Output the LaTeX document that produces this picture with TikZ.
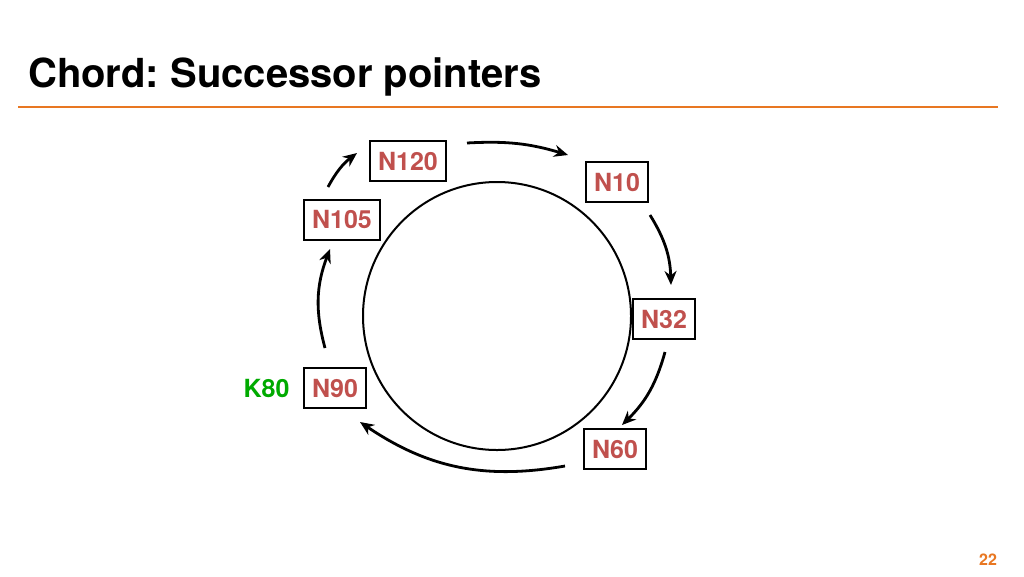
\documentclass[tikz,border=0pt]{standalone}
\usepackage{fontspec}
\setmainfont{TeX Gyre Heros}
\usepackage{tikz}
\usetikzlibrary{arrows.meta,positioning}
\definecolor{slideorange}{HTML}{E87722}
\definecolor{nodered}{HTML}{C0504D}
\definecolor{keygreen}{HTML}{00AA00}
\frenchspacing

\begin{document}
\begin{tikzpicture}[x=1pt,y=-1pt,font=\fontsize{25}{29}\selectfont\bfseries,peer/.style={draw,line width=2pt,text=nodered,minimum height=40pt,inner xsep=8pt},succ/.style={-{Stealth[length=14pt,width=12pt]},line width=2.8pt}]
\useasboundingbox (0,0) rectangle (1024,576);
\node[anchor=base west,inner sep=0pt,font=\fontsize{40}{46}\selectfont\bfseries] (title) at (28,87) {Chord: Successor pointers};
\draw[slideorange,line width=2pt] (18,107) -- (998,107);
\node[draw,circle,line width=2pt,minimum size=268pt,inner sep=0pt] (ring) at (497,316) {};
\node[peer] (n120) at (408,161) {N120};
\node[peer] (n10) at (617,182) {N10};
\node[peer] (n32) at (664,319) {N32};
\node[peer] (n60) at (615,449) {N60};
\node[peer] (n90) at (335,388) {N90};
\node[peer] (n105) at (342,219.5) {N105};
\node[text=keygreen,left=10pt of n90] (k80) {K80};
\node[text=slideorange,font=\fontsize{16}{18}\selectfont\bfseries] (page) at (988,560) {22};
% successor arcs
\coordinate (a1) at (328,187); \coordinate (b1) at (357,153);
\coordinate (a2) at (467,143); \coordinate (b2) at (568,155);
\coordinate (a3) at (650,215); \coordinate (b3) at (671,285);
\coordinate (a4) at (665,352); \coordinate (b4) at (622,425);
\coordinate (a5) at (565,466); \coordinate (b5) at (360,422);
\coordinate (a6) at (325,348); \coordinate (b6) at (330,249);
\draw[succ] (a1) to[bend left=12] (b1);\draw[succ] (a2) to[bend left=10] (b2);\draw[succ] (a3) to[bend left=15] (b3);\draw[succ] (a4) to[bend left=15] (b4);\draw[succ] (a5) to[bend left=22] (b5);\draw[succ] (a6) to[bend left=18] (b6);
\end{tikzpicture}
\end{document}
